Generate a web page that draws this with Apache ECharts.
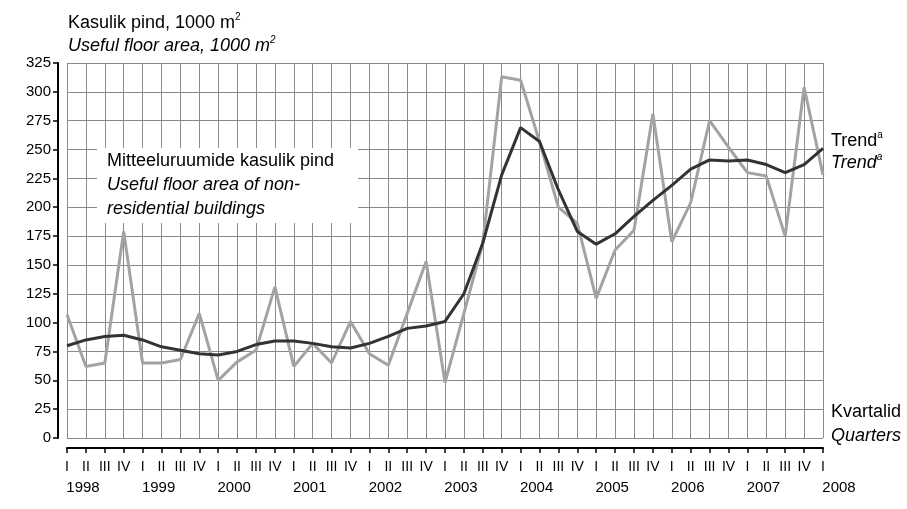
<!DOCTYPE html>
<html><head><meta charset="utf-8">
<script src="https://cdn.jsdelivr.net/npm/echarts@6/dist/echarts.min.js"></script>
<style>html,body{margin:0;padding:0;background:#fff}#c{width:907px;height:509px}</style>
</head><body><div id="c"></div>
<script>
const quarters = ['I','II','III','IV','I','II','III','IV','I','II','III','IV','I','II','III','IV','I','II','III','IV','I','II','III','IV','I','II','III','IV','I','II','III','IV','I','II','III','IV','I','II','III','IV','I'];
const years = ['1998','','','','1999','','','','2000','','','','2001','','','','2002','','','','2003','','','','2004','','','','2005','','','','2006','','','','2007','','','','2008'];
const actual = [107,62,65,179,65,65,68,108,50,66,76,131,62,82,65,101,73,63,108,153,48,108,169,313,310,257,200,186,121,163,180,281,170,204,275,252,230,227,175,304,228];
const trend = [80,85,88,89,85,79,76,73,72,75,81,84,84,82,79,78,82,88,95,97,101,125,169,228,269,257,215,179,168,177,192,206,219,233,241,240,241,237,230,237,251];
const yTicks = {min:0, max:325, interval:25};

const idx = quarters.map((q,i)=>String(i));
const FONT = '"Liberation Sans", Arial, Helvetica, sans-serif';
const F = 18;
function sup(main, s, italic){
  const st = italic ? 'italic ' : '';
  return {
    rich:{
      n:{font:st+F+'px '+FONT, fill:'#000', lineHeight:20, verticalAlign:'bottom'},
      s:{font:st+'10px '+FONT, fill:'#000', lineHeight:20, verticalAlign:'top'}
    },
    text:'{n|'+main+'}{s|'+s+'}'
  };
}
const chart = echarts.init(document.getElementById('c'), null, {renderer:'canvas'});
chart.setOption({
  animation:false,
  backgroundColor:'#fff',
  textStyle:{fontFamily:FONT},
  grid:{left:67, right:84, top:63, bottom:71, containLabel:false},
  xAxis:[{
    type:'category', data:idx, boundaryGap:false, offset:10, position:'bottom',
    axisLine:{show:true, onZero:false, lineStyle:{color:'#000', width:2}},
    axisTick:{show:true, inside:false, length:5, interval:0, lineStyle:{color:'#000', width:1.5}},
    axisLabel:{interval:0, margin:12, color:'#000', fontSize:14, fontFamily:FONT, formatter:(v)=>quarters[+v]},
    splitLine:{show:true, interval:0, lineStyle:{color:'#8a8a8a', width:1}}
  },{
    type:'category', data:idx, boundaryGap:false, offset:10, position:'bottom',
    axisLine:{show:false, onZero:false}, axisTick:{show:false}, splitLine:{show:false},
    axisLabel:{interval:0, margin:32, color:'#000', fontSize:15, fontFamily:FONT, padding:[0,0,0,32], formatter:(v)=>years[+v]}
  }],
  yAxis:{
    type:'value', min:yTicks.min, max:yTicks.max, interval:yTicks.interval, offset:9,
    axisLine:{show:true, onZero:false, lineStyle:{color:'#000', width:2}},
    axisTick:{show:true, inside:false, length:5, lineStyle:{color:'#000', width:1.5}},
    axisLabel:{color:'#000', fontSize:15, fontFamily:FONT, margin:7},
    splitLine:{show:true, lineStyle:{color:'#8a8a8a', width:1}}
  },
  series:[
    {type:'line', xAxisIndex:0, data:actual, showSymbol:false, symbol:'none', lineStyle:{color:'#a3a3a3', width:3}, z:3},
    {type:'line', xAxisIndex:0, data:trend, showSymbol:false, symbol:'none', lineStyle:{color:'#333333', width:3}, z:4}
  ],
  graphic:[
    {type:'rect', left:97, top:148, shape:{width:261, height:75}, style:{fill:'#fff'}, z:2, silent:true},
    {type:'text', left:107, top:152, z:5, style:{text:'Mitteeluruumide kasulik pind', font:F+'px '+FONT, fill:'#000'}},
    {type:'text', left:107, top:176, z:5, style:{text:'Useful floor area of non-', font:'italic '+F+'px '+FONT, fill:'#000'}},
    {type:'text', left:107, top:200, z:5, style:{text:'residential buildings', font:'italic '+F+'px '+FONT, fill:'#000'}},
    {type:'text', left:68, top:12, z:5, style:sup('Kasulik pind, 1000 m','2',false)},
    {type:'text', left:68, top:35, z:5, style:sup('Useful floor area, 1000 m','2',true)},
    {type:'text', left:831, top:130, z:5, style:sup('Trend','a',false)},
    {type:'text', left:831, top:152, z:5, style:sup('Trend','a',true)},
    {type:'text', left:831, top:403, z:5, style:{text:'Kvartalid', font:F+'px '+FONT, fill:'#000'}},
    {type:'text', left:831, top:427, z:5, style:{text:'Quarters', font:'italic '+F+'px '+FONT, fill:'#000'}}
  ]
});
</script></body></html>
